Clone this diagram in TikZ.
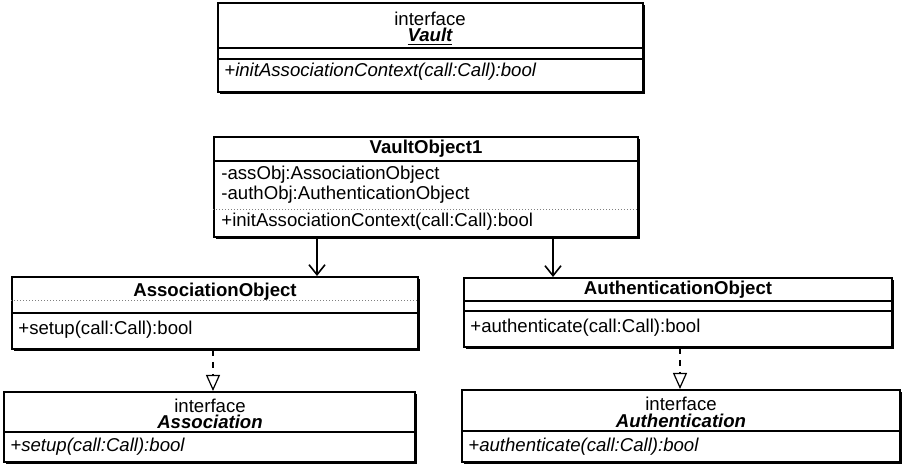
\documentclass[tikz,border=0pt]{standalone}
\usepackage{fontspec}
\setmainfont{Liberation Sans}
\usepackage{tikz}
\usetikzlibrary{arrows.meta}
\usetikzlibrary{shadows}
\tikzset{>=latex}

\begin{document}
\begin{tikzpicture}[x=0.5pt,y=-0.5pt]
                % boxes are placed at pixel positions of the sketch
                \tikzstyle{every node}=[font=\fontsize{9.3}{10}\selectfont, inner sep=0pt]
                \tikzstyle{classbox}=[draw=black, line width=1pt, fill=white, drop shadow={shadow xshift=1pt, shadow yshift=-1pt, opacity=1, fill=black}]
                \tikzstyle{member}=[anchor=west]
                \tikzstyle{title}=[font=\fontsize{9.3}{10}\selectfont\bfseries]
                \tikzstyle{ifname}=[font=\fontsize{9.3}{10}\selectfont\bfseries\itshape]
                \tikzstyle{sep}=[line width=0.6pt]
                \tikzstyle{faint}=[line width=0.5pt, densely dotted, gray]
                \tikzstyle{assoc}=[line width=0.8pt, -{Straight Barb[length=5pt,width=8pt]}]
                \tikzstyle{realize}=[line width=0.6pt, dashed, -{Triangle[open,length=8pt,width=7pt]}]

                \useasboundingbox (0,0) rectangle (907,465);

                % interface Vault
                \node[classbox, minimum width=212.5pt, minimum height=44.5pt] (vault) at (430.5,47.5) {};
                \node (vaultst) at (430,19) {interface};
                \node[ifname] (vaultname) at (430,37) {\underline{Vault}};
                \draw[sep] (vault.west |- 0,48) -- (vault.east |- 0,48);
                \draw[sep] (vault.west |- 0,59) -- (vault.east |- 0,59);
                \node[member] (vaultop) at (224,72) {\itshape +initAssociationContext(call:Call):bool};

                % VaultObject1
                \node[classbox, minimum width=212pt, minimum height=50pt] (vaultobj) at (426,187) {};
                \node[title] (vaultobjname) at (426,149) {VaultObject1};
                \draw[sep] (vaultobj.west |- 0,161) -- (vaultobj.east |- 0,161);
                \node[member] (assattr) at (221,175) {-assObj:AssociationObject};
                \node[member] (authattr) at (221,195) {-authObj:AuthenticationObject};
                \draw[faint] (vaultobj.west |- 0,210) -- (vaultobj.east |- 0,210);
                \node[member] (vaultobjop) at (221,222) {+initAssociationContext(call:Call):bool};

                % AssociationObject
                \node[classbox, minimum width=203pt, minimum height=36pt] (assocobj) at (215,313) {};
                \node[title] (assocobjname) at (215,292) {AssociationObject};
                \draw[faint] (assocobj.west |- 0,301) -- (assocobj.east |- 0,301);
                \draw[sep] (assocobj.west |- 0,313) -- (assocobj.east |- 0,313);
                \node[member] (assocobjop) at (18,330) {+setup(call:Call):bool};

                % AuthenticationObject
                \node[classbox, minimum width=214pt, minimum height=34.5pt] (authobj) at (678,312.5) {};
                \node[title] (authobjname) at (678,290) {AuthenticationObject};
                \draw[sep] (authobj.west |- 0,301) -- (authobj.east |- 0,301);
                \draw[sep] (authobj.west |- 0,311) -- (authobj.east |- 0,311);
                \node[member] (authobjop) at (470,328) {+authenticate(call:Call):bool};

                % interface Association
                \node[classbox, minimum width=205.5pt, minimum height=35pt] (assoc) at (209.5,427) {};
                \node (assocst) at (210,406) {interface};
                \node[ifname] (assocname) at (210,424) {\underline{Association}};
                \draw[sep] (assoc.west |- 0,432) -- (assoc.east |- 0,432);
                \node[member] (assocop) at (10,447) {\itshape +setup(call:Call):bool};

                % interface Authentication
                \node[classbox, minimum width=219pt, minimum height=36pt] (auth) at (681,426) {};
                \node (authst) at (681,404) {interface};
                \node[ifname] (authname) at (681,423) {\underline{Authentication}};
                \draw[sep] (auth.west |- 0,431) -- (auth.east |- 0,431);
                \node[member] (authop) at (468,447) {\itshape +authenticate(call:Call):bool};

                % connectors
                \coordinate (xa) at (317,0);
                \coordinate (xb) at (553,0);
                \coordinate (xc) at (213,0);
                \coordinate (xd) at (680,0);
                \draw[assoc] (vaultobj.south -| xa) -- (assocobj.north -| xa);
                \draw[assoc] (vaultobj.south -| xb) -- (authobj.north -| xb);
                \draw[realize] (assocobj.south -| xc) -- (assoc.north -| xc);
                \draw[realize] (authobj.south -| xd) -- (auth.north -| xd);

\end{tikzpicture}
\end{document}
